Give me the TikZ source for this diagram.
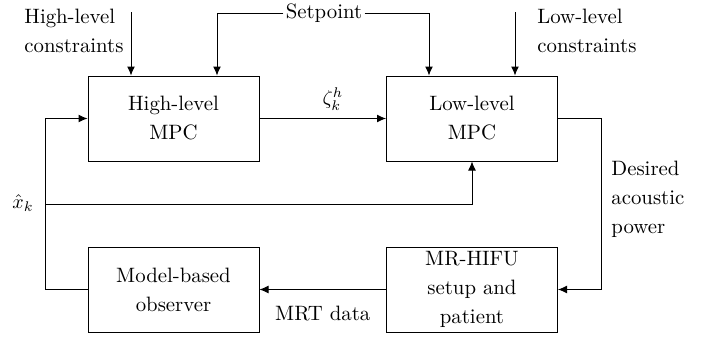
\documentclass[tikz,border=0pt]{standalone}
\usetikzlibrary{arrows.meta}
\begin{document}
\begin{tikzpicture}[x=0.5pt,y=-0.5pt,
  font=\fontsize{10.4}{14.5}\selectfont,
  blk/.style={draw, line width=0.5pt, minimum width=85.5pt, minimum height=42.5pt, inner sep=0pt, align=center},
  lbl/.style={inner sep=1pt},
  conn/.style={line width=0.5pt},
  arr/.style={conn, -{Latex[length=4.5pt,width=4pt]}}]
\useasboundingbox (0,0) rectangle (713,339);
% blocks
\node[blk] (hl) at (173.5,118.5) {High-level\\MPC};
\node[blk] (ll) at (472,118.5) {Low-level\\MPC};
\node[blk] (ob) at (173.5,289.5) {Model-based\\observer};
\node[blk] (mr) at (472,289.5) {MR-HIFU\\setup and\\patient};
% labels
\node[align=left, anchor=west, inner sep=0pt] (hlcl) at (24,31) {High-level\\constraints};
\node[align=left, anchor=west, inner sep=0pt] (llcl) at (537,31) {Low-level\\constraints};
\node[lbl] (sp) at (324,13) {Setpoint};
\node[align=left, anchor=west, inner sep=0pt] (dap) at (611,199) {Desired\\acoustic\\power};
% constraints
\coordinate (hlc) at (131,12);
\draw[arr] (hlc) -- (hlc |- hl.north);
\coordinate (llc) at (515,12);
\draw[arr] (llc) -- (llc |- ll.north);
% setpoint
\coordinate (hlsp) at (217,0);
\draw[arr] (sp.west) -| (hlsp |- hl.north);
\coordinate (llsp) at (429,0);
\draw[arr] (sp.east) -| (llsp |- ll.north);
% zeta
\draw[arr] (hl) -- (ll);
\node[inner sep=0pt] (zeta) at (333,99) {$\zeta_k^h$};
% desired acoustic power
\coordinate (rx) at (601,0);
\draw[arr] (ll.east) -| (rx |- mr.east) -- (mr.east);
% MRT data
\draw[arr] (mr) -- node[midway, below=4.5pt] (mrt) {MRT data} (ob);
% feedback
\coordinate (lx) at (45,0);
\draw[arr] (ob.west) -| (lx |- hl.west) -- (hl.west);
\coordinate (xk) at (45,204);
\draw[arr] (xk) -| (ll.south);
\node[anchor=east, inner sep=0pt] (xkl) at (34,203) {$\hat{x}_k$};
\end{tikzpicture}
\end{document}
